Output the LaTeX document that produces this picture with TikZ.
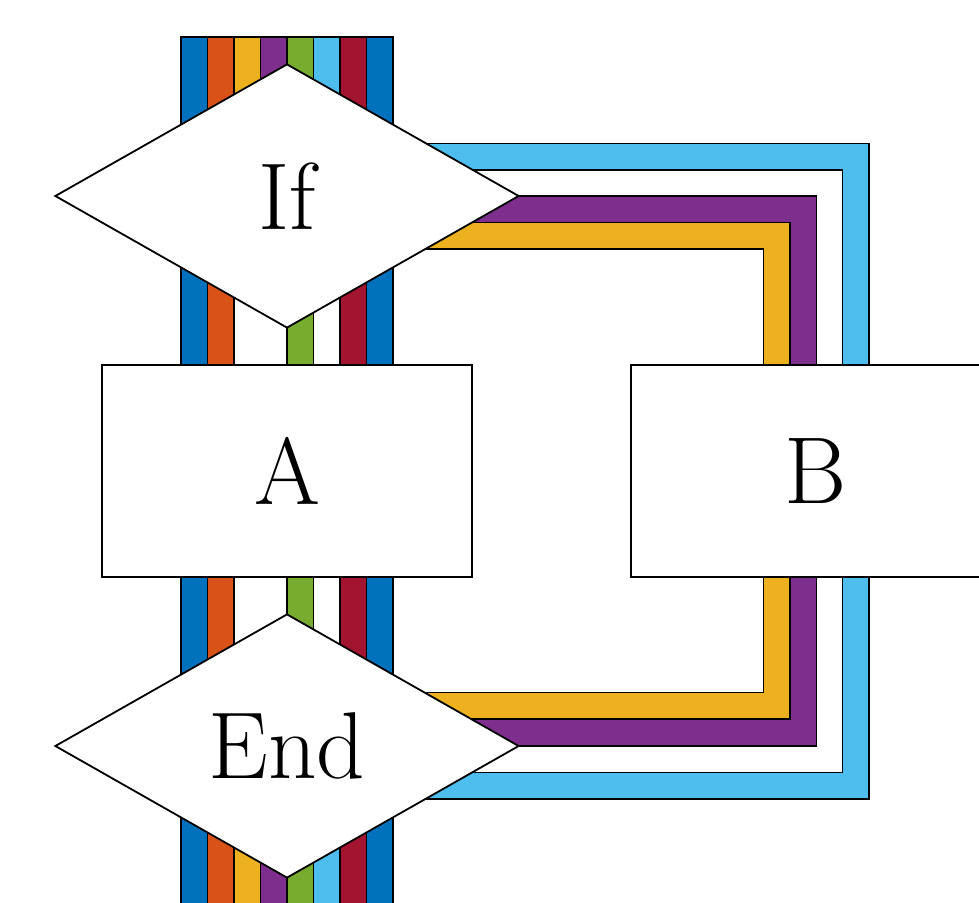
\documentclass[tikz,border=0pt]{standalone}
\usepackage{fontspec}
\usetikzlibrary{shapes.geometric}
\definecolor{wblue}{HTML}{0072BD}
\definecolor{worange}{HTML}{D95319}
\definecolor{wyellow}{HTML}{EDB120}
\definecolor{wpurple}{HTML}{7E2F8E}
\definecolor{wgreen}{HTML}{77AC30}
\definecolor{wcyan}{HTML}{4DBEEE}
\definecolor{wred}{HTML}{A2142F}
\begin{document}
\begin{tikzpicture}[x=1pt,y=-1pt,
  wire/.style={draw=black, line width=1.5pt, double=#1, double distance=25pt, line join=miter},
  decision/.style={diamond, draw=black, fill=white, line width=1.8pt, inner sep=0pt,
    minimum width=464pt, minimum height=264pt, aspect=1.758, font=\fontsize{95}{100}\selectfont},
  block/.style={rectangle, draw=black, fill=white, line width=1.8pt, inner sep=0pt,
    minimum width=370pt, minimum height=212pt, font=\fontsize{95}{100}\selectfont}]
\useasboundingbox (0,0) rectangle (979,902);
\clip (0,0) rectangle (979,902);
% wire end points
\coordinate (t1) at (194.25,37);  \coordinate (b1) at (194.25,930);
\coordinate (t2) at (220.75,37);  \coordinate (b2) at (220.75,930);
\coordinate (t3) at (247.25,37);  \coordinate (b3) at (247.25,930);
\coordinate (t4) at (273.75,37);  \coordinate (b4) at (273.75,930);
\coordinate (t5) at (300.25,37);  \coordinate (b5) at (300.25,930);
\coordinate (t6) at (326.75,37);  \coordinate (b6) at (326.75,930);
\coordinate (t7) at (353.25,37);  \coordinate (b7) at (353.25,930);
\coordinate (t8) at (379.75,37);  \coordinate (b8) at (379.75,930);
\coordinate (tl) at (180.25,37);  \coordinate (tr) at (393.75,37);
% loop corners
\coordinate (y3a) at (776.5,235.5); \coordinate (y3b) at (776.5,705.5);
\coordinate (p4a) at (803,209);     \coordinate (p4b) at (803,732.5);
\coordinate (c6a) at (855.5,156.5); \coordinate (c6b) at (855.5,785.5);
% wires
\draw[wire=wblue]   (t1) -- (b1);
\draw[wire=worange] (t2) -- (b2);
\draw[wire=wgreen]  (t5) -- (b5);
\draw[wire=wred]    (t7) -- (b7);
\draw[wire=wblue]   (t8) -- (b8);
\draw[wire=wcyan]   (t6) |- (c6a) -- (c6b) -| (b6);
\draw[wire=wpurple] (t4) |- (p4a) -- (p4b) -| (b4);
\draw[wire=wyellow] (t3) |- (y3a) -- (y3b) -| (b3);
\draw[line width=1.5pt] (tl) -- (tr);
% nodes
\node[decision] (if) at (287,196) {If};
\node[block] (A) at (287,471) {A};
\node[block] (B) at (816,471) {B};
\node[decision] (end) at (287,746) {End};
\end{tikzpicture}
\end{document}
